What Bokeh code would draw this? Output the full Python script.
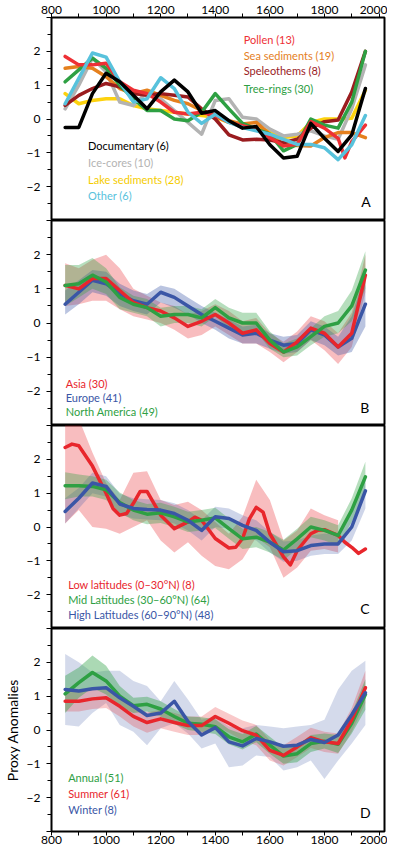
from bokeh.plotting import figure
from bokeh.models import Range1d, LinearAxis, FixedTicker, Label
from bokeh.layouts import column
from bokeh.embed import file_html
from bokeh.resources import INLINE

FONT = "Lato"

YEARS = [850, 900, 950, 1000, 1050, 1100, 1150, 1200, 1250, 1300, 1350, 1400,
         1450, 1500, 1550, 1600, 1650, 1700, 1750, 1800, 1850, 1900, 1950]

# ---------------- Panel A : proxy types ----------------
POLLEN_YEARS = [850, 900, 950, 1000, 1050, 1100, 1150, 1200, 1250, 1300, 1350, 1400,
                1450, 1500, 1550, 1600, 1650, 1700, 1750, 1800, 1850, 1875, 1900, 1950]
pollen = [1.85, 1.6, 1.6, 1.65, 1.1, 0.85, 0.75, 0.5, 0.2, 0.15, 0.2, 0.1,
          -0.1, -0.2, -0.3, -0.55, -0.8, -0.75, -0.08, -0.27, -0.57, -1.15, -0.67, -0.18]
sea_sed = [1.5, 1.55, 1.5, 1.25, 0.9, 0.75, 0.85, 0.7, 0.55, 0.45, 0.25, 0.1,
           -0.05, -0.15, -0.1, -0.45, -0.75, -0.78, -0.8, -0.55, -0.4, -0.4, -0.55]
speleo = [0.4, 0.7, 0.9, 1.05, 0.95, 0.75, 0.7, 0.75, 0.7, 0.65, 0.3, 0.0,
          -0.47, -0.62, -0.6, -0.62, -0.7, -0.6, -0.27, -0.08, -0.03, 0.8, 2.0]
tree = [1.1, 1.45, 1.8, 1.5, 1.0, 0.6, 0.25, 0.25, 0.0, -0.05, 0.2, 0.75,
        0.3, -0.13, -0.3, -0.45, -0.94, -0.75, 0.0, -0.18, -0.27, 0.5, 2.0]
documentary = [-0.25, -0.25, 0.75, 1.35, 1.1, 0.7, 0.3, 0.8, 1.15, 0.8, 0.17, 0.25,
               -0.05, -0.27, -0.22, -0.76, -1.15, -1.1, -0.13, -0.57, -0.96, -0.47, 0.9]
ice = [0.3, 1.0, 1.8, 1.4, 0.5, 0.4, 0.8, 0.6, 0.25, -0.1, -0.45, 0.55,
       0.6, 0.05, 0.0, -0.3, -0.5, -0.45, -0.35, -0.5, -0.6, 0.3, 1.6]
lake = [0.75, 0.45, 0.55, 0.6, 0.6, 0.4, 0.3, 0.25, 0.2, 0.15, 0.1, 0.05,
        -0.1, -0.2, -0.3, -0.35, -0.55, -0.5, -0.1, 0.0, 0.0, 0.02, 0.85]
other = [0.45, 1.2, 1.95, 1.83, 1.1, 0.5, 0.6, 1.22, 0.9, 0.2, -0.13, 0.14,
         -0.1, -0.25, -0.35, -0.45, -0.6, -0.75, -0.75, -0.85, -1.2, -0.76, 0.1]

# ---------------- Panel B : regions ----------------
asia = [1.1, 1.0, 1.3, 1.3, 0.95, 0.6, 0.45, 0.35, 0.15, -0.1, 0.05, 0.25,
        0.0, -0.3, -0.2, -0.6, -0.85, -0.55, -0.15, -0.3, -0.7, -0.3, 1.4]
asia_hi = [1.75, 1.6, 1.85, 2.0, 1.6, 1.0, 0.8, 0.6, 0.5, 0.25, 0.35, 0.55,
           0.35, 0.05, 0.15, -0.3, -0.55, -0.25, 0.2, 0.05, -0.3, 0.3, 2.0]
asia_lo = [0.5, 0.55, 0.65, 0.65, 0.4, 0.2, 0.1, 0.0, -0.2, -0.45, -0.35, -0.1,
           -0.35, -0.6, -0.6, -0.85, -1.15, -0.85, -0.5, -0.8, -1.2, -0.7, 0.9]
europe = [0.55, 0.9, 1.25, 1.15, 0.85, 0.65, 0.55, 0.9, 0.75, 0.5, 0.25, 0.05,
          -0.15, -0.35, -0.3, -0.5, -0.65, -0.6, -0.2, -0.35, -0.7, -0.45, 0.55]
europe_hi = [0.95, 1.25, 1.55, 1.5, 1.15, 0.95, 0.85, 1.1, 1.0, 0.75, 0.5, 0.3,
             0.1, -0.1, -0.05, -0.3, -0.4, -0.35, 0.05, -0.1, -0.4, 0.2, 1.5]
europe_lo = [0.25, 0.55, 0.9, 0.8, 0.5, 0.35, 0.25, 0.6, 0.45, 0.25, 0.0, -0.2,
             -0.45, -0.6, -0.6, -0.75, -0.9, -0.85, -0.5, -0.65, -0.95, -0.85, -0.1]
namerica = [1.1, 1.15, 1.4, 1.2, 0.75, 0.55, 0.45, 0.2, 0.25, 0.25, 0.15, 0.45,
            0.15, 0.0, 0.0, -0.5, -0.85, -0.7, -0.4, -0.1, 0.0, 0.5, 1.55]
namerica_hi = [1.7, 1.7, 1.9, 1.6, 1.05, 0.8, 0.7, 0.45, 0.5, 0.5, 0.4, 0.7,
               0.45, 0.3, 0.3, -0.25, -0.6, -0.45, -0.15, 0.2, 0.35, 0.95, 2.1]
namerica_lo = [0.5, 0.75, 1.0, 0.85, 0.4, 0.3, 0.2, -0.1, 0.0, 0.0, -0.1, 0.2,
               -0.15, -0.25, -0.25, -0.75, -1.0, -0.95, -0.65, -0.4, -0.3, 0.05, 1.0]

# ---------------- Panel C : latitude bands ----------------
LOW_YEARS = [850, 875, 900, 950, 1000, 1025, 1050, 1075, 1100, 1125, 1150, 1200, 1250,
             1300, 1325, 1350, 1400, 1450, 1475, 1500, 1525, 1550, 1575, 1600, 1650,
             1675, 1700, 1750, 1775, 1800, 1850, 1875, 1900, 1925, 1950]
low = [2.35, 2.45, 2.4, 1.8, 1.0, 0.55, 0.35, 0.4, 0.7, 1.05, 1.05, 0.35, -0.05,
       0.15, 0.29, 0.2, -0.34, -0.62, -0.6, -0.34, 0.24, 0.58, 0.44, -0.2, -0.88,
       -1.12, -0.7, -0.2, -0.1, -0.08, -0.25, -0.45, -0.6, -0.78, -0.65]
LOW_BAND_YEARS = [850, 900, 950, 1000, 1050, 1100, 1150, 1200, 1250, 1300, 1350,
                  1400, 1450, 1500, 1550, 1600, 1650, 1700, 1750, 1800, 1850]
low_hi = [3.2, 3.2, 2.2, 1.3, 0.8, 1.6, 1.65, 0.8, 0.65, 0.75, 0.5,
          0.15, -0.2, 0.3, 1.4, 0.8, -0.4, -0.1, 0.55, 0.35, 0.2]
low_lo = [0.1, 0.5, 0.0, -0.05, -0.2, 0.0, 0.2, -0.4, -0.75, -0.45, -0.85,
          -1.15, -1.25, -0.95, -0.3, -0.6, -1.5, -1.2, -0.7, -0.65, -0.75]
mid = [1.22, 1.22, 1.2, 1.1, 0.72, 0.5, 0.38, 0.42, 0.3, 0.15, 0.2, 0.27,
       -0.05, -0.35, -0.3, -0.45, -0.68, -0.35, 0.0, -0.1, -0.25, 0.5, 1.48]
mid_hi = [1.62, 1.55, 1.5, 1.4, 1.02, 0.8, 0.68, 0.72, 0.6, 0.45, 0.5, 0.57,
          0.25, -0.05, 0.0, -0.15, -0.38, -0.05, 0.3, 0.2, 0.05, 0.85, 1.93]
mid_lo = [0.82, 0.9, 0.9, 0.8, 0.42, 0.2, 0.08, 0.12, 0.0, -0.15, -0.1, -0.03,
          -0.35, -0.65, -0.6, -0.75, -0.98, -0.65, -0.3, -0.4, -0.55, 0.15, 1.03]
high = [0.46, 0.85, 1.3, 1.2, 0.68, 0.55, 0.52, 0.5, 0.4, 0.2, -0.1, 0.3,
        0.25, 0.05, -0.1, -0.45, -0.73, -0.7, -0.55, -0.5, -0.5, 0.0, 1.07]
high_hi = [0.85, 1.15, 1.6, 1.5, 0.98, 0.85, 0.82, 0.8, 0.7, 0.5, 0.2, 0.6,
           0.55, 0.35, 0.2, -0.15, -0.43, -0.4, -0.25, -0.2, -0.2, 0.4, 1.55]
high_lo = [0.1, 0.55, 1.0, 0.9, 0.38, 0.25, 0.22, 0.2, 0.1, -0.1, -0.4, 0.0,
           -0.05, -0.25, -0.4, -0.75, -1.03, -1.0, -0.85, -0.8, -0.8, -0.4, 0.55]

# ---------------- Panel D : seasons ----------------
annual = [1.07, 1.4, 1.7, 1.45, 1.0, 0.72, 0.76, 0.62, 0.4, 0.2, 0.17, 0.1,
          -0.2, -0.35, -0.12, -0.45, -0.77, -0.7, -0.4, -0.33, -0.42, 0.2, 1.05]
annual_hi = [1.6, 1.85, 2.2, 1.9, 1.3, 0.95, 0.98, 0.85, 0.62, 0.4, 0.38, 0.32,
             0.02, -0.12, 0.12, -0.2, -0.52, -0.45, -0.15, -0.1, -0.15, 0.5, 1.5]
annual_lo = [0.5, 0.95, 1.25, 1.05, 0.7, 0.5, 0.55, 0.4, 0.18, 0.0, -0.05, -0.12,
             -0.42, -0.58, -0.36, -0.7, -1.0, -0.95, -0.65, -0.55, -0.68, -0.1, 0.6]
summer = [0.85, 0.85, 0.92, 0.95, 0.7, 0.4, 0.22, 0.33, 0.22, 0.13, 0.13, 0.4,
          0.2, -0.02, -0.15, -0.6, -0.75, -0.5, -0.23, -0.35, -0.4, 0.3, 1.25]
summer_hi = [1.15, 1.15, 1.22, 1.25, 1.0, 0.7, 0.52, 0.6, 0.5, 0.4, 0.4, 0.68,
             0.48, 0.28, 0.15, -0.3, -0.45, -0.2, 0.07, -0.05, -0.1, 0.65, 1.75]
summer_lo = [0.55, 0.55, 0.62, 0.65, 0.4, 0.1, -0.08, 0.05, -0.05, -0.15, -0.15, 0.12,
             -0.08, -0.3, -0.45, -0.9, -1.05, -0.8, -0.53, -0.65, -0.7, -0.05, 0.8]
winter = [1.2, 1.15, 1.22, 1.25, 0.95, 0.7, 0.43, 0.5, 0.85, 0.25, -0.15, 0.07,
          -0.35, -0.47, -0.25, -0.35, -0.48, -0.45, -0.28, -0.37, -0.15, 0.45, 1.1]
winter_hi = [2.25, 2.0, 1.7, 1.75, 1.75, 1.45, 1.3, 0.85, 1.45, 0.9, 0.3, 0.4,
             0.1, 0.05, 0.15, 0.1, 0.05, 0.1, 0.15, 0.3, 1.2, 1.75, 2.05]
winter_lo = [0.15, 0.1, 0.5, 0.8, 0.15, -0.05, -0.45, 0.05, 0.2, -0.1, -0.55, -0.4,
             -1.1, -1.05, -0.75, -0.8, -1.2, -1.1, -0.9, -1.45, -0.9, -0.4, 0.15]

X_TICKS = [800, 1000, 1200, 1400, 1600, 1800, 2000]
X_MINOR = [900, 1100, 1300, 1500, 1700, 1900]
Y_TICKS = [-3, -2, -1, 0, 1, 2, 3]
Y_MINOR = [-2.5, -1.5, -0.5, 0.5, 1.5, 2.5]
Y_LABELS = {-3: "", -2: "\u22122", -1: "\u22121", 0: "0", 1: "1", 2: "2", 3: ""}

RED = "#e8262c"
BLUE = "#3a56a6"
GREEN = "#2ea043"
LW = 3.5


def style_x_axis(ax):
    ax.ticker = FixedTicker(ticks=X_TICKS, minor_ticks=X_MINOR)
    ax.major_label_text_font = FONT
    ax.major_label_text_font_size = "12px"
    ax.major_label_text_color = "black"
    ax.major_tick_out = 4
    ax.minor_tick_out = 4
    ax.major_tick_in = 0
    ax.minor_tick_in = 0
    ax.major_label_standoff = 0
    ax.axis_line_color = None
    ax.major_tick_line_color = "black"
    ax.minor_tick_line_color = "black"


def make_panel(height, top=0, bottom=0, xaxis=None, ylabel=None):
    p = figure(width=387, height=height, x_range=Range1d(800, 2020), y_range=Range1d(-3, 3),
               output_backend="svg", toolbar_location=None, x_axis_location=None,
               min_border_left=50, min_border_right=3, min_border_top=top,
               min_border_bottom=bottom)
    p.grid.visible = False
    p.outline_line_color = "black"
    p.outline_line_width = 2
    p.background_fill_color = "white"
    p.border_fill_color = "white"
    ya = p.yaxis[0]
    ya.ticker = FixedTicker(ticks=Y_TICKS, minor_ticks=Y_MINOR)
    ya.major_label_overrides = Y_LABELS
    ya.major_label_text_font = FONT
    ya.major_label_text_font_size = "12px"
    ya.major_label_text_color = "black"
    ya.major_tick_out = 5
    ya.minor_tick_out = 4
    ya.major_tick_in = 0
    ya.minor_tick_in = 0
    ya.major_label_standoff = 6
    ya.axis_line_color = None
    if ylabel:
        ya.axis_label = ylabel
        ya.axis_label_text_font = FONT
        ya.axis_label_text_font_size = "14px"
        ya.axis_label_text_font_style = "normal"
        ya.axis_label_text_color = "black"
        ya.axis_label_standoff = 3
    if xaxis:
        ax = LinearAxis()
        style_x_axis(ax)
        p.add_layout(ax, xaxis)
    return p


def add_text(p, x, y, text, color, size="11px", align="left"):
    p.add_layout(Label(x=x, y=y, text=text, text_color=color, text_font=FONT,
                       text_font_size=size, text_baseline="middle", text_align=align))


def add_line(p, xs, ys, color):
    p.line(xs, ys, line_color=color, line_width=LW, line_join="round", line_cap="round")


# ---- Panel A
pA = make_panel(220, top=17, xaxis="above")
add_line(pA, YEARS, lake, "#fdd20e")
add_line(pA, YEARS, ice, "#b3b3b3")
add_line(pA, YEARS, sea_sed, "#e5801e")
add_line(pA, YEARS, speleo, "#9a1c1f")
add_line(pA, YEARS, tree, GREEN)
add_line(pA, POLLEN_YEARS, pollen, "#ee3035")
add_line(pA, YEARS, other, "#58c2dc")
add_line(pA, YEARS, documentary, "black")
add_text(pA, 1504, 2.36, "Pollen (13)", "#ee3035")
add_text(pA, 1504, 1.89, "Sea sediments (19)", "#e5801e")
add_text(pA, 1504, 1.42, "Speleothems (8)", "#9a1c1f")
add_text(pA, 1504, 0.89, "Tree-rings (30)", GREEN)
add_text(pA, 934, -0.79, "Documentary (6)", "black")
add_text(pA, 934, -1.29, "Ice-cores (10)", "#b3b3b3")
add_text(pA, 934, -1.79, "Lake sediments (28)", "#f5cc00")
add_text(pA, 934, -2.26, "Other (6)", "#58c2dc")
add_text(pA, 1952, -2.45, "A", "black", size="14px", align="center")

# ---- Panel B
pB = make_panel(205)
pB.varea(x=YEARS, y1=asia_lo, y2=asia_hi, fill_color=RED, fill_alpha=0.3)
pB.varea(x=YEARS, y1=europe_lo, y2=europe_hi, fill_color=BLUE, fill_alpha=0.35)
pB.varea(x=YEARS, y1=namerica_lo, y2=namerica_hi, fill_color=GREEN, fill_alpha=0.35)
add_line(pB, YEARS, europe, BLUE)
add_line(pB, YEARS, asia, RED)
add_line(pB, YEARS, namerica, GREEN)
add_text(pB, 852, -1.76, "Asia (30)", RED)
add_text(pB, 852, -2.19, "Europe (41)", BLUE)
add_text(pB, 852, -2.58, "North America (49)", GREEN)
add_text(pB, 1948, -2.47, "B", "black", size="14px", align="center")

# ---- Panel C
pC = make_panel(203)
pC.varea(x=LOW_BAND_YEARS, y1=low_lo, y2=low_hi, fill_color=RED, fill_alpha=0.3)
pC.varea(x=YEARS, y1=high_lo, y2=high_hi, fill_color=BLUE, fill_alpha=0.25)
pC.varea(x=YEARS, y1=mid_lo, y2=mid_hi, fill_color=GREEN, fill_alpha=0.35)
add_line(pC, LOW_YEARS, low, RED)
add_line(pC, YEARS, mid, GREEN)
add_line(pC, YEARS, high, BLUE)
add_text(pC, 861, -1.69, "Low latitudes (0\u201330\u00b0N) (8)", RED)
add_text(pC, 861, -2.14, "Mid Latitudes (30\u201360\u00b0N) (64)", GREEN)
add_text(pC, 861, -2.58, "High Latitudes (60\u201390\u00b0N) (48)", BLUE)
add_text(pC, 1948, -2.42, "C", "black", size="14px", align="center")

# ---- Panel D
pD = make_panel(220, bottom=17, xaxis="below", ylabel="Proxy Anomalies")
pD.varea(x=YEARS, y1=winter_lo, y2=winter_hi, fill_color=BLUE, fill_alpha=0.22)
pD.varea(x=YEARS, y1=summer_lo, y2=summer_hi, fill_color=RED, fill_alpha=0.25)
pD.varea(x=YEARS, y1=annual_lo, y2=annual_hi, fill_color=GREEN, fill_alpha=0.4)
add_line(pD, YEARS, annual, GREEN)
add_line(pD, YEARS, summer, RED)
add_line(pD, YEARS, winter, BLUE)
add_text(pD, 861, -1.40, "Annual (51)", GREEN)
add_text(pD, 861, -1.89, "Summer (61)", RED)
add_text(pD, 861, -2.36, "Winter (8)", BLUE)
add_text(pD, 1950, -2.43, "D", "black", size="14px", align="center")

layout = column(pA, pB, pC, pD)
open("out.html", "w").write(file_html(layout, INLINE))
